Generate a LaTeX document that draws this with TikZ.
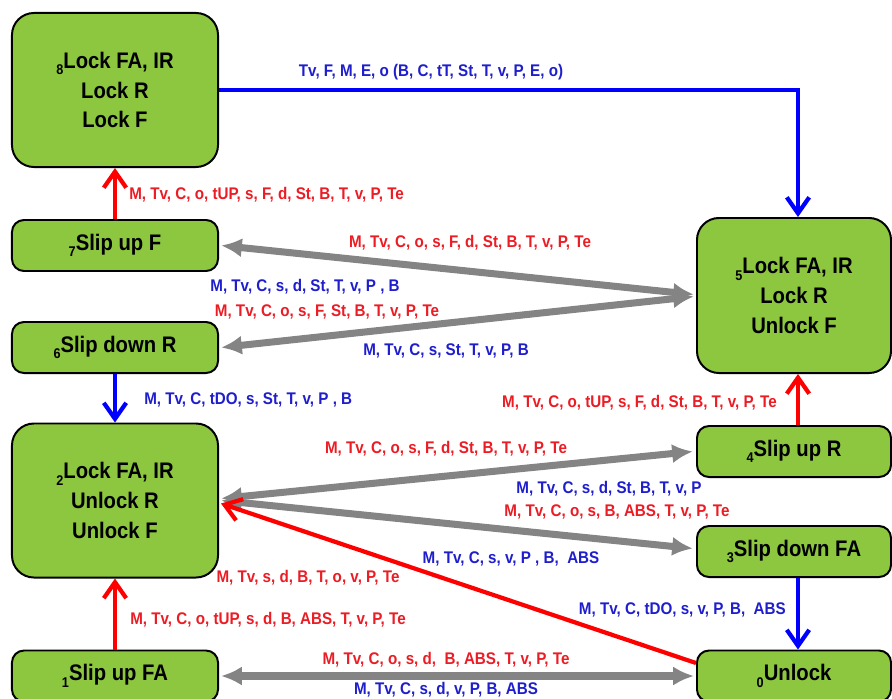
\documentclass[tikz,border=0pt]{standalone}
\usepackage{fontspec}
\setmainfont{Liberation Sans}[FakeStretch=0.9]
\usetikzlibrary{arrows.meta,calc}
\definecolor{boxgreen}{RGB}{141,198,63}
\definecolor{lblred}{RGB}{236,28,36}
\definecolor{lblblue}{RGB}{30,30,205}
\definecolor{arrgray}{RGB}{132,132,132}
\newcommand\stsub[1]{\raisebox{-0.55ex}{\fontsize{10}{10}\selectfont #1}}
\begin{document}
\begin{tikzpicture}[x=0.025cm,y=-0.025cm,
  state/.style={draw=black, line width=1.4pt, fill=boxgreen, align=center, inner sep=0pt,
    font=\fontsize{16}{21.3}\selectfont\bfseries},
  bigstate/.style={state, minimum width=5.15cm, minimum height=3.85cm, rounded corners=0.55cm},
  bigstater/.style={state, minimum width=4.85cm, minimum height=3.875cm, rounded corners=0.55cm},
  smallstate/.style={state, minimum width=5.15cm, minimum height=1.275cm, rounded corners=0.3cm},
  smallstater/.style={state, minimum width=4.85cm, minimum height=1.275cm, rounded corners=0.3cm},
  colarrow/.style={line width=3pt, -{Straight Barb[length=4mm,width=5.6mm]}},
  redarrow/.style={colarrow, draw=red},
  bluearrow/.style={colarrow, draw=blue},
  grayarrow/.style={line width=5pt, draw=arrgray,
    {Latex[length=5.2mm,width=4.8mm]}-{Latex[length=5.2mm,width=4.8mm]}},
  lbl/.style={inner sep=0pt, font=\fontsize{12}{13}\selectfont\bfseries},
  rlbl/.style={lbl, text=lblred},
  blbl/.style={lbl, text=lblblue}
]
\useasboundingbox (0,0) rectangle (892,698);
\clip (0,0) rectangle (892,698);

% states
\node[bigstate]    (b8) at (115,90)    {\stsub{8}Lock FA, IR\\Lock R\\Lock F};
\node[smallstate]  (b7) at (115,245.5) {\stsub{7}Slip up F};
\node[smallstate]  (b6) at (115,347.5) {\stsub{6}Slip down R};
\node[bigstate]    (b2) at (115,500.5) {\stsub{2}Lock FA, IR\\Unlock R\\Unlock F};
\node[smallstate]  (b1) at (115,676)   {\stsub{1}Slip up FA};
\node[bigstater]   (b5) at (794,295.5) {\stsub{5}Lock FA, IR\\Lock R\\Unlock F};
\node[smallstater] (b4) at (794,451.5) {\stsub{4}Slip up R};
\node[smallstater] (b3) at (794,551.5) {\stsub{3}Slip down FA};
\node[smallstater] (b0) at (794,676)   {\stsub{0}Unlock};

% gray double arrows
\draw[grayarrow] ($(b7.east)+(2,0)$) -- ($(b5.west)+(-2,-1)$);
\draw[grayarrow] ($(b6.east)+(2,0)$) -- ($(b5.west)+(-2,1)$);
\draw[grayarrow] ($(b2.east)+(2,-2)$) -- ($(b4.west)+(-3,0)$);
\draw[grayarrow] ($(b2.east)+(2,0)$) -- ($(b3.west)+(-3,-3)$);
\draw[grayarrow] ($(b0.west)+(-2,0)$) -- ($(b1.east)+(2,0)$);

% coloured arrows
\draw[bluearrow] (b8.east) -| ($(b5.north)+(4,0)$);
\draw[redarrow]  (b7.north) -- (b8.south);
\draw[bluearrow] (b6.south) -- (b2.north);
\draw[redarrow]  ($(b4.north)+(4,0)$) -- ($(b5.south)+(4,0)$);
\draw[bluearrow] ($(b3.south)+(4,0)$) -- ($(b0.north)+(4,0)$);
\draw[redarrow]  (b1.north) -- (b2.south);
\draw[redarrow]  ($(b0.west)+(0,-13)$) -- ($(b2.east)+(2,3)$);

% labels
\node[blbl] (l85) at (431,72) {Tv, F, M, E, o (B, C, tT, St, T, v, P, E, o)};
\node[rlbl, anchor=west] (l78) at (129,195) {M, Tv, C, o, tUP, s, F, d, St, B, T, v, P, Te};
\node[rlbl] (l75r) at (470,243) {M, Tv, C, o, s, F, d, St, B, T, v, P, Te};
\node[blbl] (l75b) at (305,287) {M, Tv, C, s, d, St, T, v, P , B};
\node[rlbl] (l65r) at (327,312) {M, Tv, C, o, s, F, St, B, T, v, P, Te};
\node[blbl] (l65b) at (446,351) {M, Tv, C, s, St, T, v, P, B};
\node[blbl, anchor=west] (l62) at (144,400) {M, Tv, C, tDO, s, St, T, v, P , B};
\node[rlbl, anchor=east] (l45) at (777,403) {M, Tv, C, o, tUP, s, F, d, St, B, T, v, P, Te};
\node[rlbl] (l24r) at (446,449) {M, Tv, C, o, s, F, d, St, B, T, v, P, Te};
\node[blbl] (l24b) at (609,489) {M, Tv, C, s, d, St, B, T, v, P};
\node[rlbl] (l23r) at (617,512) {M, Tv, C, o, s, B, ABS, T, v, P, Te};
\node[blbl] (l23b) at (511,559) {M, Tv, C, s, v, P , B, \ ABS};
\node[rlbl] (l02) at (308,578) {M, Tv, s, d, B, T, o, v, P, Te};
\node[blbl, anchor=east] (l30) at (786,610) {M, Tv, C, tDO, s, v, P, B, \ ABS};
\node[rlbl, anchor=west] (l12) at (130,620) {M, Tv, C, o, tUP, s, d, B, ABS, T, v, P, Te};
\node[rlbl] (l01r) at (446,660) {M, Tv, C, o, s, d, \ B, ABS, T, v, P, Te};
\node[blbl] (l01b) at (446,690) {M, Tv, C, s, d, v, P, B, ABS};
\end{tikzpicture}
\end{document}
